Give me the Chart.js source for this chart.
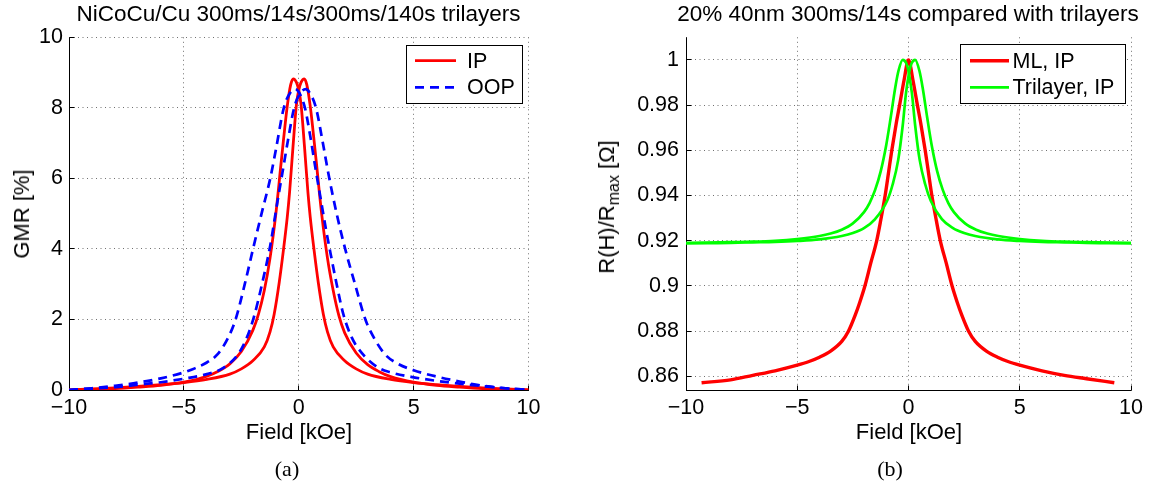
<!DOCTYPE html>
<html>
<head>
<meta charset="utf-8">
<title>GMR field sweeps</title>
<script src="https://cdn.jsdelivr.net/npm/chart.js@4.4.1/dist/chart.umd.min.js"></script>
<style>
  html, body { margin: 0; padding: 0; background: #fff; }
  body { width: 1150px; height: 495px; position: relative; overflow: hidden;
         font-family: "Liberation Sans", Arial, Helvetica, sans-serif; color: #000; }
  .pane { position: absolute; top: 0; width: 575px; height: 495px; }
  .pane canvas { display: block; }
  .txt { position: absolute; white-space: nowrap; line-height: 1; transform: translate(-50%, -50%); }
  .title { font-size: 22.5px; }
  .axis { font-size: 22px; }
  .vert { transform: translate(-50%, -50%) rotate(-90deg); }
  .cap { font-family: "Liberation Serif", "DejaVu Serif", serif; font-size: 22px; }
  .vert sub { font-size: 16px; vertical-align: -5px; line-height: 0; }
</style>
</head>
<body>
<div class="pane" style="left:0"><canvas id="gmrChart" width="575" height="495"></canvas></div>
<div class="pane" style="left:575px"><canvas id="normChart" width="575" height="495"></canvas></div>

<div class="txt title" style="left:298.5px; top:13.5px">NiCoCu/Cu 300ms/14s/300ms/140s trilayers</div>
<div class="txt title" style="left:908px; top:13.5px">20% 40nm 300ms/14s compared with trilayers</div>
<div class="txt axis" style="left:299px; top:432px">Field [kOe]</div>
<div class="txt axis" style="left:909px; top:432px">Field [kOe]</div>
<div class="txt axis vert" style="left:22px; top:214px">GMR [%]</div>
<div class="txt axis vert" style="left:607px; top:207px">R(H)/R<sub>max</sub> [Ω]</div>
<div class="txt cap" style="left:287px; top:469px">(a)</div>
<div class="txt cap" style="left:890px; top:469px">(b)</div>

<script>
// ---------- Panel (a): GMR of the NiCoCu/Cu trilayers ----------
// In-plane field, sweep from +10 kOe down to -10 kOe (listed by ascending field)
const fieldIpDown = [-10, -9, -8, -7, -6, -5, -4, -3.5, -3, -2.5, -2, -1.75, -1.5, -1.25, -1, -0.75, -0.5, -0.35, -0.24, -0.1,
                     0, 0.1, 0.25, 0.4, 0.5, 0.67, 0.85, 1.07, 1.25, 1.5, 2, 2.5, 3, 4, 5, 6, 7, 8, 9, 10];
const gmrIpDown   = [0, 0.02, 0.04, 0.08, 0.13, 0.22, 0.39, 0.53, 0.74, 1.09, 1.69, 2.16, 2.82, 3.74, 4.98, 6.55, 8.05, 8.66, 8.82, 8.72,
                     8.5, 8.1, 6.9, 5.6, 4.9, 3.95, 3.05, 2.15, 1.65, 1.22, 0.83, 0.6, 0.45, 0.3, 0.21, 0.15, 0.1, 0.06, 0.03, 0];
// In-plane field, sweep from -10 kOe up to +10 kOe
const fieldIpUp = [-10, -9, -8, -7, -6, -5, -4, -3, -2.5, -2, -1.5, -1.25, -1.07, -0.85, -0.67, -0.5, -0.4, -0.25, -0.1, 0,
                   0.1, 0.24, 0.35, 0.5, 0.75, 1, 1.25, 1.5, 1.75, 2, 2.5, 3, 3.5, 4, 5, 6, 7, 8, 9, 10];
const gmrIpUp   = [0, 0.03, 0.06, 0.1, 0.15, 0.21, 0.3, 0.45, 0.6, 0.83, 1.22, 1.65, 2.15, 3.05, 3.95, 4.9, 5.6, 6.9, 8.1, 8.5,
                   8.72, 8.82, 8.66, 8.05, 6.55, 4.98, 3.74, 2.82, 2.1, 1.62, 1.05, 0.72, 0.52, 0.38, 0.22, 0.13, 0.08, 0.04, 0.02, 0];
// Out-of-plane field, sweep down
const fieldOopDown = [-10, -9, -8, -7, -6, -5, -4.5, -4, -3.55, -3.1, -2.75, -2.35, -1.99, -1.6, -1.24, -1, -0.65, -0.4, -0.15,
                      0, 0.27, 0.5, 0.75, 1, 1.2, 1.39, 1.65, 1.94, 2.3, 2.74, 3.5, 4, 5, 6, 7, 8, 9, 10];
const gmrOopDown   = [0, 0.05, 0.12, 0.21, 0.33, 0.5, 0.62, 0.78, 1.0, 1.45, 2.0, 3.0, 4.0, 5.05, 6.0, 6.8, 8.0, 8.4, 8.53,
                      8.45, 8.0, 7.2, 6.2, 5.25, 4.5, 3.85, 3.0, 2.15, 1.5, 1.05, 0.62, 0.5, 0.36, 0.26, 0.18, 0.11, 0.05, 0];
// Out-of-plane field, sweep up
const fieldOopUp = [-10, -9, -8, -7, -6, -5, -4, -3.3, -2.6, -2.25, -1.96, -1.6, -1.24, -0.95, -0.7, -0.45, -0.2, 0.05, 0.3,
                    0.5, 0.75, 1.05, 1.3, 1.65, 2.02, 2.45, 2.9, 3.3, 3.77, 4.3, 5, 6, 7, 8, 9, 10];
const gmrOopUp   = [0, 0.04, 0.08, 0.15, 0.22, 0.32, 0.45, 0.62, 1.05, 1.5, 2.05, 3.0, 4.1, 5.25, 6.2, 7.15, 8.0, 8.4, 8.53,
                    8.4, 8.0, 7.0, 6.1, 5.0, 4.0, 3.0, 2.0, 1.45, 1.0, 0.75, 0.56, 0.38, 0.24, 0.12, 0.05, 0];

const gmrFieldTicks = [-10, -5, 0, 5, 10];
const gmrFieldTickLabels = ['\u221210', '\u22125', '0', '5', '10'];
const gmrTicks = [0, 2, 4, 6, 8, 10];
const gmrTickLabels = ['0', '2', '4', '6', '8', '10'];

// ---------- Panel (b): normalised resistance, multilayer vs trilayer ----------
const fieldMl = [-9.3, -8, -7, -6, -5, -4.5, -4, -3.5, -3, -2.7, -2.4, -2.2, -1.96, -1.7, -1.43, -1.25, -1.05, -0.9, -0.75, -0.55, -0.4, -0.2,
                 0, 0.2, 0.4, 0.55, 0.75, 0.9, 1.05, 1.25, 1.43, 1.7, 1.96, 2.2, 2.4, 2.7, 3, 3.5, 4, 4.5, 5, 6, 7, 8, 9.25];
const normMl  = [0.8572, 0.8585, 0.8605, 0.8625, 0.8650, 0.8665, 0.8685, 0.8712, 0.8755, 0.8800, 0.8870, 0.8925, 0.9000, 0.9100, 0.9200,
                 0.9290, 0.9400, 0.9500, 0.9600, 0.9720, 0.9800, 0.9910, 1.0, 0.9910, 0.9800, 0.9720, 0.9600, 0.9500, 0.9400, 0.9290,
                 0.9200, 0.9100, 0.9000, 0.8925, 0.8870, 0.8800, 0.8755, 0.8712, 0.8685, 0.8665, 0.8650, 0.8625, 0.8605, 0.8590, 0.8572];
const fieldTriDown = [-10, -9, -8, -7, -6, -5, -4, -3.5, -3, -2.5, -2, -1.75, -1.5, -1.25, -1, -0.8, -0.6, -0.45, -0.26, -0.1,
                      0, 0.15, 0.3, 0.5, 0.75, 1, 1.5, 2, 2.5, 3, 4, 5, 6, 7, 8, 9, 10];
const normTriDown  = [0.9190, 0.9192, 0.9194, 0.9196, 0.9200, 0.9208, 0.9221, 0.9232, 0.9249, 0.9277, 0.9327, 0.9367, 0.9425, 0.9507,
                      0.9624, 0.9745, 0.9875, 0.9952, 1.0, 0.9985, 0.9950, 0.9855, 0.9710, 0.9559, 0.9450, 0.9377, 0.9296, 0.9256,
                      0.9234, 0.9221, 0.9206, 0.9199, 0.9195, 0.9193, 0.9191, 0.9190, 0.9190];
const fieldTriUp = [-10, -9, -8, -7, -6, -5, -4, -3, -2.5, -2, -1.5, -0.96, -0.71, -0.46, -0.26, -0.11, 0.04, 0.14, 0.3, 0.49,
                    0.64, 0.84, 1.04, 1.29, 1.54, 1.79, 2.04, 2.54, 3.04, 3.54, 4.04, 5, 6, 7, 8, 9, 10];
const normTriUp  = [0.9190, 0.9190, 0.9191, 0.9193, 0.9195, 0.9199, 0.9206, 0.9221, 0.9234, 0.9256, 0.9296, 0.9377, 0.9450, 0.9559,
                    0.9710, 0.9855, 0.9950, 0.9985, 1.0, 0.9952, 0.9875, 0.9745, 0.9624, 0.9507, 0.9425, 0.9367, 0.9327, 0.9277,
                    0.9249, 0.9232, 0.9221, 0.9208, 0.9200, 0.9196, 0.9194, 0.9192, 0.9190];

const normFieldTicks = [-10, -5, 0, 5, 10];
const normFieldTickLabels = ['\u221210', '\u22125', '0', '5', '10'];
const normTicks = [0.86, 0.88, 0.9, 0.92, 0.94, 0.96, 0.98, 1];
const normTickLabels = ['0.86', '0.88', '0.9', '0.92', '0.94', '0.96', '0.98', '1'];

// ---------- drawing helpers ----------
const FONT = '"Liberation Sans", Arial, Helvetica, sans-serif';
const RED = '#ff0000', BLUE = '#0000ff', GREEN = '#00ff00';

const crisp = v => Math.round(v - 0.5) + 0.5;

function makeScale(min, max, values, labels, isX, fixedSize, pad) {
  return {
    type: 'linear',
    position: isX ? 'bottom' : 'left',
    min, max,
    offset: false,
    afterBuildTicks(scale) { scale.ticks = values.map(v => ({ value: v })); },
    afterFit(scale) { if (isX) scale.height = fixedSize; else scale.width = fixedSize; },
    ticks: {
      autoSkip: false, maxRotation: 0, minRotation: 0, padding: pad, color: '#000',
      font: { family: FONT, size: 21.5, lineHeight: 1.2 },
      callback: (v) => { const i = values.indexOf(v); return i >= 0 ? labels[i] : ''; }
    },
    grid: { display: false, drawTicks: false },
    border: { display: false }
  };
}

function curve(label, xs, ys, color, width, dash, order, inKey) {
  return {
    label, inKey, order,
    data: xs.map((x, i) => ({ x, y: ys[i] })),
    borderColor: color, backgroundColor: color, borderWidth: width,
    borderDash: dash || [], borderCapStyle: 'butt', borderJoinStyle: 'round',
    pointRadius: 0, pointHoverRadius: 0, fill: false,
    cubicInterpolationMode: 'monotone'
  };
}

// Dotted grid, left/bottom axis lines and inward tick marks
const axesFrame = {
  id: 'axesFrame',
  beforeDatasetsDraw(chart) {
    const { ctx, chartArea: a, scales: { x, y } } = chart;
    const seg = (x1, y1, x2, y2) => { ctx.beginPath(); ctx.moveTo(x1, y1); ctx.lineTo(x2, y2); ctx.stroke(); };
    ctx.save();
    ctx.lineWidth = 1;
    ctx.strokeStyle = '#707070';
    ctx.setLineDash([1, 3.5]);
    x.ticks.forEach(t => { const px = crisp(x.getPixelForValue(t.value)); seg(px, a.top, px, a.bottom); });
    y.ticks.forEach(t => { const py = crisp(y.getPixelForValue(t.value)); seg(a.left, py, a.right, py); });
    ctx.setLineDash([]);
    ctx.strokeStyle = '#000';
    const L = crisp(a.left), B = crisp(a.bottom);
    seg(L, a.top, L, B + 0.5);
    seg(L - 0.5, B, a.right + 0.5, B);
    x.ticks.forEach(t => { const px = crisp(x.getPixelForValue(t.value)); seg(px, B, px, B - 5); });
    y.ticks.forEach(t => { const py = crisp(y.getPixelForValue(t.value)); seg(L, py, L + 5, py); });
    ctx.restore();
  }
};

// Boxed key drawn inside the plot area
const keyBox = {
  id: 'keyBox',
  afterDatasetsDraw(chart, args, o) {
    const ctx = chart.ctx;
    ctx.save();
    ctx.fillStyle = '#fff';
    ctx.fillRect(o.left, o.top, o.width, o.height);
    ctx.strokeStyle = '#000';
    ctx.lineWidth = 1;
    ctx.strokeRect(crisp(o.left), crisp(o.top), Math.round(o.width), Math.round(o.height));
    ctx.font = '21.5px ' + FONT;
    ctx.textBaseline = 'middle';
    ctx.textAlign = 'left';
    chart.data.datasets.filter(d => d.inKey).forEach((d, i) => {
      const yy = o.firstRow + i * o.rowStep;
      ctx.strokeStyle = d.borderColor;
      ctx.lineWidth = d.borderWidth;
      ctx.setLineDash(d.borderDash || []);
      ctx.beginPath(); ctx.moveTo(o.lineFrom, yy); ctx.lineTo(o.lineTo, yy); ctx.stroke();
      ctx.setLineDash([]);
      ctx.fillStyle = '#000';
      ctx.fillText(d.label, o.textX, yy + 1);
    });
    ctx.restore();
  }
};

function baseOptions(padRight, xScale, yScale, key) {
  return {
    responsive: false, animation: false, events: [],
    layout: { padding: { top: 37.3, right: padRight, bottom: 0, left: 0 } },
    plugins: { legend: { display: false }, tooltip: { enabled: false }, keyBox: key },
    scales: { x: xScale, y: yScale }
  };
}

new Chart(document.getElementById('gmrChart'), {
  type: 'line',
  data: {
    datasets: [
      curve('IP', fieldIpDown, gmrIpDown, RED, 2.8, null, 2, true),
      curve('IP', fieldIpUp, gmrIpUp, RED, 2.8, null, 2, false),
      curve('OOP', fieldOopDown, gmrOopDown, BLUE, 2.7, [9, 6], 1, true),
      curve('OOP', fieldOopUp, gmrOopUp, BLUE, 2.7, [9, 6], 1, false)
    ]
  },
  options: baseOptions(46.5,
    makeScale(-10, 10, gmrFieldTicks, gmrFieldTickLabels, true, 105, 5),
    makeScale(0, 10, gmrTicks, gmrTickLabels, false, 69, 6),
    { left: 406, top: 45, width: 116, height: 58, firstRow: 60.7, rowStep: 26.6, lineFrom: 415, lineTo: 456, textX: 467 }),
  plugins: [axesFrame, keyBox]
});

new Chart(document.getElementById('normChart'), {
  type: 'line',
  data: {
    datasets: [
      curve('ML, IP', fieldMl, normMl, RED, 3.4, null, 2, true),
      curve('Trilayer, IP', fieldTriDown, normTriDown, GREEN, 2.7, null, 1, true),
      curve('Trilayer, IP', fieldTriUp, normTriUp, GREEN, 2.7, null, 1, false)
    ]
  },
  options: baseOptions(19,
    makeScale(-10, 10, normFieldTicks, normFieldTickLabels, true, 105, 5),
    makeScale(0.854, 1.01, normTicks, normTickLabels, false, 111, 7),
    { left: 385, top: 44, width: 165, height: 59, firstRow: 60.7, rowStep: 26.6, lineFrom: 395, lineTo: 434, textX: 437.5 }),
  plugins: [axesFrame, keyBox]
});
</script>
</body>
</html>
